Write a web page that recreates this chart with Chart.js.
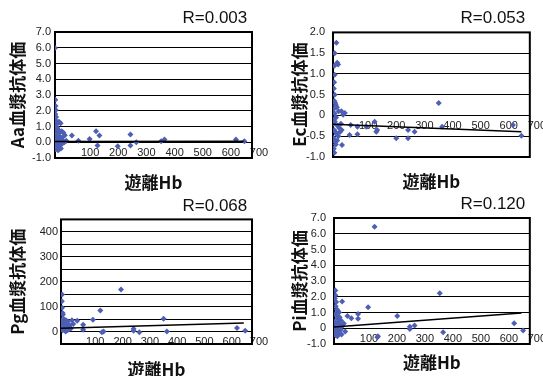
<!DOCTYPE html>
<html>
<head>
<meta charset="utf-8">
<script src="https://cdn.jsdelivr.net/npm/chart.js@4.4.1/dist/chart.umd.min.js"></script>
<style>
  html, body { margin: 0; padding: 0; background: #fff; width: 543px; height: 376px; overflow: hidden; }
  canvas { position: absolute; }
</style>
</head>
<body>
<canvas id="cAa" width="272" height="196" style="left:0;top:0"></canvas>
<canvas id="cEc" width="271" height="196" style="left:272px;top:0"></canvas>
<canvas id="cPg" width="272" height="196" style="left:0;top:188px"></canvas>
<canvas id="cPi" width="271" height="196" style="left:272px;top:188px"></canvas>
<script>
// 遊離Hb vs 血漿抗体価 (4 bacteria)
const hbAa = [0, 1, 2, 3, 1, 4, 2, 6, 10, 14, 20, 3, 8, 12, 5, 16, 24, 30, 2, 7, 11, 18, 26, 35, 4, 9, 15, 22, 28, 1, 6, 13, 19, 25, 33, 3, 8, 16, 21, 2, 11, 40, 60, 83, 123, 146, 158, 151, 223, 268, 268, 289, 377, 389, 643, 673];
const aaTiter = [5.98, 2.7, 2.3, 2.05, 1.8, 1.6, 1.4, 1.25, 1.2, 1.3, 1.2, 1.0, 0.9, 0.8, 0.7, 0.6, 0.7, 0.6, 0.5, 0.4, 0.3, 0.35, 0.3, 0.45, 0.2, 0.1, 0.15, 0.05, 0.1, 0.0, -0.1, -0.05, -0.15, -0.1, 0.0, -0.2, -0.3, -0.35, -0.4, -0.45, -0.5, 0.1, 0.43, 0.1, 0.2, 0.7, 0.43, -0.2, -0.26, 0.5, -0.2, 0.0, 0.06, 0.17, 0.17, 0.06];

const hbEc = [12, 15, 18, 6, 5, 6, 4, 6, 3, 5, 8, 10, 14, 2, 20, 6, 0, 3, 7, 11, 16, 22, 28, 4, 9, 13, 19, 25, 31, 2, 6, 10, 3, 5, 15, 32, 36, 42, 30, 59, 63, 87, 87, 119, 148, 154, 157, 225, 267, 267, 290, 376, 388, 640, 670];
const ecTiter = [1.75, 1.27, 1.23, 1.5, 1.2, 0.98, 0.8, 0.5, 0.65, 0.35, 0.3, 0.25, 0.2, 0.15, 0.1, 0.05, -0.1, -0.2, -0.15, -0.05, -0.25, -0.3, -0.2, -0.35, -0.4, -0.45, -0.5, -0.4, -0.35, -0.55, -0.62, -0.7, -0.8, -0.9, -0.6, -0.71, 0.02, 0.06, 0.1, -0.47, -0.23, -0.45, -0.27, -0.27, -0.15, -0.39, -0.35, -0.55, -0.35, -0.55, -0.39, 0.3, -0.27, -0.23, -0.49];

const hbPg = [4, 3, 4, 6, 7, 2, 5, 8, 10, 12, 15, 18, 20, 22, 25, 28, 30, 3, 6, 9, 14, 17, 24, 33, 36, 40, 45, 59, 81, 81, 117, 144, 150, 156, 220, 266, 266, 287, 376, 388, 645, 675];
const pgTiter = [149, 122, 95, 74, 68, 45, 30, 40, 50, 35, 25, 45, 30, 15, 40, 20, 10, 10, 5, 20, 8, 0, 5, 25, 12, 45, 30, 43, 27, 7, 47, 84, -3, 0, 169, 11, 3, -3, 51, 0, 14, 3];

const hbPi = [145, 378, 122, 226, 86, 86, 62, 48, 29, 5, 5, 8, 3, 6, 10, 14, 18, 4, 9, 12, 20, 25, 2, 7, 15, 22, 30, 35, 4, 11, 17, 24, 3, 8, 14, 20, 27, 40, 6, 12, 157, 155, 271, 271, 288, 390, 644, 676];
const piTiter = [6.45, 2.23, 1.34, 0.77, 0.9, 0.6, 0.64, 0.77, 1.7, 2.4, 2.1, 1.66, 1.9, 1.4, 1.2, 1.1, 1.0, 0.9, 0.8, 0.6, 0.7, 0.5, 0.4, 0.3, 0.35, 0.2, 0.15, 0.3, 0.05, -0.05, 0.1, -0.1, -0.2, -0.3, -0.25, -0.35, -0.4, -0.2, -0.45, -0.5, -0.5, -0.57, -0.04, 0.1, 0.17, -0.25, 0.32, -0.15];

// regression lines (start / end)
const trendHb = [0, 670];
const aaTrend = [0.05, 0.06];
const ecTrend = [-0.21, -0.39];
const pgTrend = [13, 34];
const piTrend = [0.08, 0.97];

const xTicks = [0, 700, 100];

const frame = {
  id: "frame",
  beforeDatasetsDraw(chart) {
    const { ctx, chartArea: a } = chart;
    ctx.save();
    ctx.strokeStyle = "#000";
    ctx.lineWidth = 2;
    ctx.strokeRect(a.left, a.top, a.right - a.left, a.bottom - a.top);
    ctx.restore();
  },
};

const pts = (xs, ys) => xs.map((x, i) => ({ x, y: ys[i] }));

function panel(id, p) {
  new Chart(document.getElementById(id).getContext("2d"), {
    type: "scatter",
    data: {
      datasets: [
        { data: pts(p.xs, p.ys), pointStyle: "rectRot", pointRadius: 3, backgroundColor: "#4c5fb4", borderColor: "#4c5fb4", borderWidth: 0, order: 1 },
        { data: pts(trendHb, p.trend), showLine: true, pointRadius: 0, borderColor: "#000", borderWidth: 1.5, order: 0 },
      ],
    },
    options: {
      responsive: false,
      animation: false,
      layout: { padding: { left: 0, right: p.padRight, top: 0, bottom: 0 } },
      plugins: {
        legend: { display: false },
        tooltip: { enabled: false },
        title: { display: true, text: p.r + " ", align: "end", color: "#111", font: { family: "Liberation Sans", size: 17, weight: "normal" }, padding: p.titlePad },
        subtitle: { display: true, position: "bottom", fullSize: false, text: "遊離Hb", color: "#111", font: { family: "Noto Sans CJK JP", size: 17, weight: "bold" }, padding: p.subPad },
      },
      scales: {
        x: {
          type: "linear",
          position: { y: 0 },
          min: xTicks[0],
          max: xTicks[1],
          grid: { display: false, drawTicks: false },
          border: { display: true, color: "#000", width: 1 },
          ticks: { stepSize: xTicks[2], autoSkip: false, maxRotation: 0, labelOffset: 7, padding: 4, color: "#222", font: { family: "Liberation Sans", size: 11 }, callback: (v) => (v === 0 ? "" : v) },
        },
        y: {
          min: p.yMin,
          max: p.yMax,
          afterFit: (s) => { s.width = p.axisW; },
          grid: { color: "#000", lineWidth: 1, drawTicks: false },
          border: { display: false },
          ticks: { stepSize: p.yStep, autoSkip: false, padding: p.tickPad, color: "#222", font: { family: "Liberation Sans", size: 11 }, callback: p.fmt },
          title: { display: true, text: p.yTitle, color: "#111", font: { family: "Noto Sans CJK JP", size: 17, weight: "bold" }, padding: { top: p.yTitlePad, bottom: 0 } },
        },
      },
    },
    plugins: [frame],
  });
}

panel("cAa", {
  xs: hbAa, ys: aaTiter, trend: aaTrend, r: "R=0.003", yTitle: "Aa血漿抗体価",
  yMin: -1, yMax: 7, yStep: 1, fmt: (v) => v.toFixed(1),
  axisW: 55, padRight: 20, tickPad: 4, yTitlePad: 7.8,
  titlePad: { top: 8.3, bottom: 3.3 }, subPad: { top: 14.8, bottom: 2.8 },
});
panel("cEc", {
  xs: hbEc, ys: ecTiter, trend: ecTrend, r: "R=0.053", yTitle: "Ec血漿抗体価",
  yMin: -1, yMax: 2, yStep: 0.5, fmt: (v) => (v === 0 ? "0" : v.toFixed(1)),
  axisW: 61, padRight: 13, tickPad: 8, yTitlePad: 17.8,
  titlePad: { top: 7.8, bottom: 4.2 }, subPad: { top: 14.8, bottom: 3.8 },
});
panel("cPg", {
  xs: hbPg, ys: pgTiter, trend: pgTrend, r: "R=0.068", yTitle: "Pg血漿抗体価",
  yMin: -50, yMax: 450, yStep: 50, fmt: (v) => (v >= 0 && v % 100 === 0 ? String(v) : ""),
  axisW: 61, padRight: 20, tickPad: 3, yTitlePad: 7.8,
  titlePad: { top: 7.8, bottom: 3.2 }, subPad: { top: 15.8, bottom: 3.8 },
});
panel("cPi", {
  xs: hbPi, ys: piTiter, trend: piTrend, r: "R=0.120", yTitle: "Pi血漿抗体価",
  yMin: -1, yMax: 7, yStep: 1, fmt: (v) => (v === 0 ? "0" : v.toFixed(1)),
  axisW: 62, padRight: 13, tickPad: 8, yTitlePad: 17.8,
  titlePad: { top: 5.8, bottom: 3.8 }, subPad: { top: 8.8, bottom: 10.8 },
});
</script>
</body>
</html>
